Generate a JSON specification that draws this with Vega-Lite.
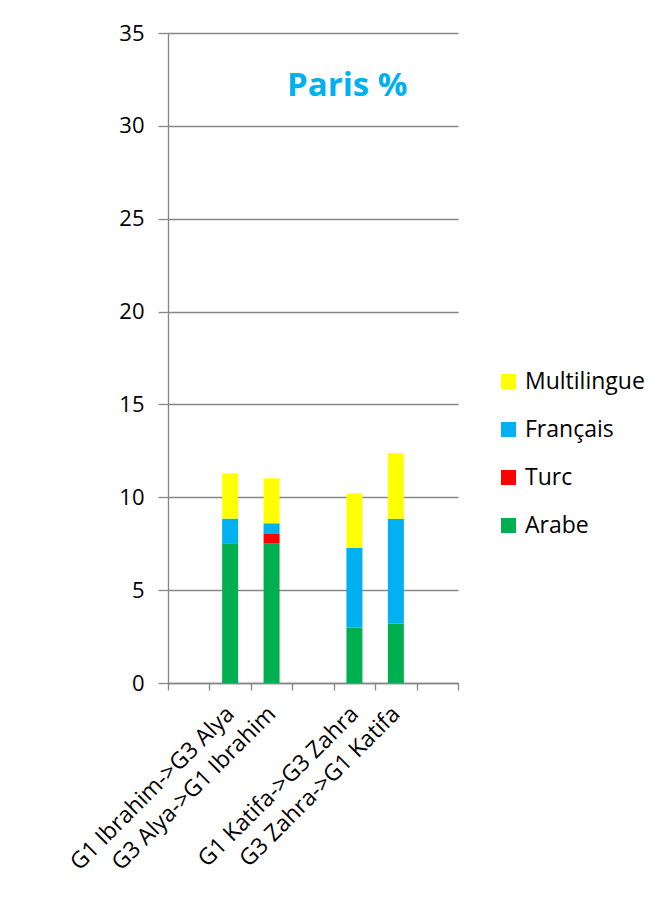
{
  "$schema": "https://vega.github.io/schema/vega-lite/v6.json",
  "width": 290,
  "height": 650,
  "autosize": {"type": "none"},
  "padding": {"left": 168, "top": 33, "right": 207, "bottom": 217},
  "background": "white",
  "title": {
    "text": "Paris %",
    "anchor": "start",
    "frame": "group",
    "orient": "top",
    "offset": 0,
    "dx": 119,
    "dy": 107,
    "baseline": "alphabetic",
    "font": "Open Sans",
    "fontSize": 33,
    "fontWeight": "bold",
    "color": "#00B0F0"
  },
  "data": {
    "values": [
      {"pair": "G1  Ibrahim->G3 Alya", "lang": "Arabe", "value": 7.52},
      {"pair": "G1  Ibrahim->G3 Alya", "lang": "Turc", "value": 0},
      {"pair": "G1  Ibrahim->G3 Alya", "lang": "Français", "value": 1.33},
      {"pair": "G1  Ibrahim->G3 Alya", "lang": "Multilingue", "value": 2.44},
      {"pair": "G3 Alya->G1 Ibrahim", "lang": "Arabe", "value": 7.52},
      {"pair": "G3 Alya->G1 Ibrahim", "lang": "Turc", "value": 0.54},
      {"pair": "G3 Alya->G1 Ibrahim", "lang": "Français", "value": 0.54},
      {"pair": "G3 Alya->G1 Ibrahim", "lang": "Multilingue", "value": 2.42},
      {"pair": "G1  Katifa->G3 Zahra", "lang": "Arabe", "value": 2.98},
      {"pair": "G1  Katifa->G3 Zahra", "lang": "Turc", "value": 0},
      {"pair": "G1  Katifa->G3 Zahra", "lang": "Français", "value": 4.29},
      {"pair": "G1  Katifa->G3 Zahra", "lang": "Multilingue", "value": 2.94},
      {"pair": "G3 Zahra->G1  Katifa", "lang": "Arabe", "value": 3.21},
      {"pair": "G3 Zahra->G1  Katifa", "lang": "Turc", "value": 0},
      {"pair": "G3 Zahra->G1  Katifa", "lang": "Français", "value": 5.64},
      {"pair": "G3 Zahra->G1  Katifa", "lang": "Multilingue", "value": 3.52}
    ]
  },
  "transform": [
    {"calculate": "indexof(['Arabe', 'Turc', 'Français', 'Multilingue'], datum.lang)", "as": "stackOrder"}
  ],
  "mark": {"type": "bar", "width": 16},
  "encoding": {
    "x": {
      "field": "pair",
      "type": "nominal",
      "sort": null,
      "scale": {
        "domain": [" ", "G1  Ibrahim->G3 Alya", "G3 Alya->G1 Ibrahim", "  ", "G1  Katifa->G3 Zahra", "G3 Zahra->G1  Katifa", "   "],
        "paddingInner": 0,
        "paddingOuter": 0
      },
      "axis": {
        "title": null,
        "labelAngle": -45,
        "labelAlign": "right",
        "labelBaseline": "middle",
        "labelPadding": 20,
        "labelFont": "Open Sans",
        "labelFontSize": 23,
        "labelColor": "#000000",
        "labelLimit": 400,
        "tickBand": "extent",
        "tickSize": 7,
        "tickColor": "#868686",
        "tickWidth": 1.3,
        "domainColor": "#868686",
        "domainWidth": 1.3,
        "grid": false
      }
    },
    "y": {
      "field": "value",
      "type": "quantitative",
      "scale": {"domain": [0, 35], "nice": false},
      "axis": {
        "title": null,
        "values": [0, 5, 10, 15, 20, 25, 30, 35],
        "labelFont": "Open Sans",
        "labelFontSize": 22,
        "labelColor": "#000000",
        "labelPadding": 14,
        "tickSize": 10,
        "tickColor": "#868686",
        "tickWidth": 1.3,
        "domainColor": "#868686",
        "domainWidth": 1.3,
        "grid": true,
        "gridColor": "#868686",
        "gridWidth": 1.3
      }
    },
    "order": {"field": "stackOrder", "type": "quantitative", "sort": "ascending"},
    "color": {
      "field": "lang",
      "type": "nominal",
      "sort": ["Multilingue", "Français", "Turc", "Arabe"],
      "scale": {
        "domain": ["Multilingue", "Français", "Turc", "Arabe"],
        "range": ["#FFFF00", "#00B0F0", "#FF0000", "#00B050"]
      },
      "legend": {
        "title": null,
        "orient": "none",
        "legendX": 329,
        "legendY": 337,
        "symbolType": "square",
        "symbolSize": 225,
        "symbolStrokeWidth": 0,
        "labelFont": "Open Sans",
        "labelFontSize": 23,
        "labelColor": "#000000",
        "labelOffset": 5,
        "rowPadding": 24
      }
    }
  },
  "config": {
    "view": {"stroke": null}
  }
}
